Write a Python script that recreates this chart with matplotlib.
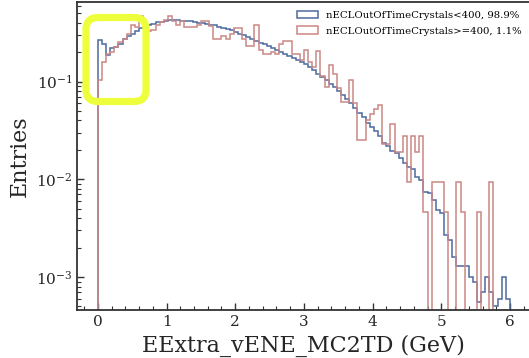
import numpy as np
import matplotlib
matplotlib.use("Agg")
import matplotlib.pyplot as plt
from matplotlib.patches import FancyBboxPatch
from matplotlib.transforms import IdentityTransform

# 100 bins from 0 to 6 GeV, normalised entries
edges = np.linspace(0, 6, 101)

low_vals = [0.265, 0.245, 0.186, 0.22, 0.226, 0.24, 0.27, 0.29, 0.31, 0.33,
            0.35, 0.36, 0.377, 0.39, 0.405, 0.41, 0.415, 0.425, 0.43, 0.425,
            0.42, 0.42, 0.415, 0.41, 0.40, 0.395, 0.39, 0.38, 0.375, 0.365,
            0.355, 0.345, 0.335, 0.325, 0.31, 0.30, 0.286, 0.272, 0.26, 0.25,
            0.24, 0.23, 0.22, 0.21, 0.20, 0.19, 0.182, 0.175, 0.168, 0.16,
            0.15, 0.14, 0.13, 0.12, 0.112, 0.104, 0.095, 0.088, 0.08, 0.073,
            0.066, 0.06, 0.054, 0.048, 0.043, 0.038, 0.034, 0.031, 0.028, 0.0233,
            0.022, 0.0195, 0.0184, 0.0167, 0.0146, 0.0133, 0.0128, 0.0105, 0.0098, 0.0074,
            0.0072, 0.0062, 0.0048, 0.0045, 0.0027, 0.0024, 0.0016, 0.0013, 0.0013, 0.0013,
            0.001, 0.00089, 0.00055, 0.0007, 0.001, 0.0007, 0.0005, 0.0006, 0.001, 0.0006]

high_vals = [0.103, 0.16, 0.19, 0.20, 0.226, 0.254, 0.275, 0.31, 0.377, 0.36,
             0.47, 0.377, 0.33, 0.34, 0.377, 0.41, 0.43, 0.47, 0.42, 0.377,
             0.42, 0.36, 0.36, 0.36, 0.38, 0.42, 0.42, 0.37, 0.275, 0.275,
             0.29, 0.275, 0.31, 0.35, 0.35, 0.275, 0.23, 0.23, 0.377, 0.21,
             0.19, 0.19, 0.20, 0.19, 0.245, 0.26, 0.26, 0.19, 0.19, 0.165,
             0.21, 0.16, 0.14, 0.205, 0.115, 0.088, 0.147, 0.12, 0.085, 0.062,
             0.062, 0.103, 0.06, 0.025, 0.025, 0.04, 0.047, 0.053, 0.057, 0.023,
             0.023, 0.037, 0.019, 0.019, 0.028, 0.0094, 0.028, 0.019, 0.028, 0.0046,
             0, 0.0094, 0.0094, 0.0094, 0.0046, 0, 0, 0.0094, 0.0046, 0,
             0, 0, 0.0046, 0, 0, 0.0094, 0, 0, 0, 0]

labels = ["nECLOutOfTimeCrystals<400, 98.9%", "nECLOutOfTimeCrystals>=400, 1.1%"]

plt.rcParams['font.family'] = 'DejaVu Serif'
plt.rcParams['mathtext.fontset'] = 'dejavuserif'

fig = plt.figure(figsize=(5.29, 3.58), dpi=100)
ax = fig.add_axes([0.146, 0.134, 0.857, 0.86])

centers = 0.5 * (edges[:-1] + edges[1:])
ax.hist(centers, bins=edges, weights=low_vals, histtype='step',
        color='#4C6A9E', lw=1.1, label=labels[0])
ax.hist(centers, bins=edges, weights=high_vals, histtype='step',
        color='#CC8884', lw=1.1, label=labels[1])

ax.set_yscale('log')
ax.set_xlim(-0.3, 6.3)
ax.set_ylim(4.6e-4, 0.65)
ax.set_xlabel("EExtra_vENE_MC2TD (GeV)", fontsize=16, color='#262626')
ax.set_ylabel("Entries", fontsize=16, color='#262626')

ax.minorticks_on()
ax.tick_params(which='both', direction='in', colors='#333333', labelcolor='#262626',
               top=False, right=False)
ax.tick_params(which='major', length=5, width=1, labelsize=11)
ax.tick_params(which='minor', length=3, width=0.8)
for s in ax.spines.values():
    s.set_color('#333333')
    s.set_linewidth(1.3)

ax.legend(loc='upper right', fontsize=7.3, frameon=False, handlelength=2.0,
          borderaxespad=0.5, labelspacing=0.6)

# yellow highlight box around the low-energy region
box = FancyBboxPatch((86, 256.5), 60, 84, boxstyle="round,pad=0,rounding_size=12",
                     transform=IdentityTransform(), fill=False,
                     ec='#EDFF3A', lw=5.2, zorder=10)
fig.add_artist(box)

fig.savefig("out.png", dpi=100)
